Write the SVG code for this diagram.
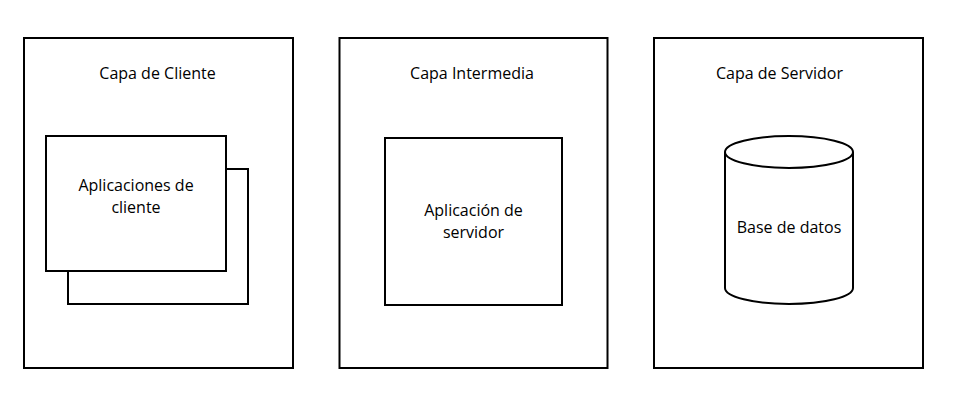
<svg xmlns="http://www.w3.org/2000/svg" width="954" height="400" viewBox="0 0 954 400">
<style>
.box{fill:#fff;stroke:#000;stroke-width:2}
.t{font-family:"Open Sans","Noto Sans","Liberation Sans",sans-serif;font-size:16px;fill:#000;text-anchor:middle}
</style>
<rect width="954" height="400" fill="#fff"/>
<g id="capa-cliente">
<rect class="box" x="24" y="38" width="269" height="330"/>
<text class="t" x="157.5" y="79">Capa de Cliente</text>
</g>
<g id="aplicaciones-cliente">
<rect class="box" x="68" y="169" width="180" height="135"/>
<rect class="box" x="46" y="136" width="180" height="135"/>
<text class="t" x="136" y="191">Aplicaciones de</text>
<text class="t" x="136" y="213">cliente</text>
</g>
<g id="capa-intermedia">
<rect class="box" x="339.5" y="38" width="268" height="330"/>
<text class="t" x="472" y="79">Capa Intermedia</text>
</g>
<g id="aplicacion-servidor">
<rect class="box" x="385" y="138" width="177" height="167"/>
<text class="t" x="473.5" y="216">Aplicación de</text>
<text class="t" x="473.5" y="238">servidor</text>
</g>
<g id="capa-servidor">
<rect class="box" x="654" y="38" width="269" height="330"/>
<text class="t" x="779.5" y="79">Capa de Servidor</text>
</g>
<g id="base-datos">
<path class="box" d="M725,152 L725,288 A64,16 0 0 0 853,288 L853,152 A64,16 0 0 0 725,152 Z"/>
<path class="box" fill="none" d="M725,152 A64,16 0 0 0 853,152"/>
<text class="t" x="789" y="233">Base de datos</text>
</g>
<g id="connectors"></g>
</svg>
